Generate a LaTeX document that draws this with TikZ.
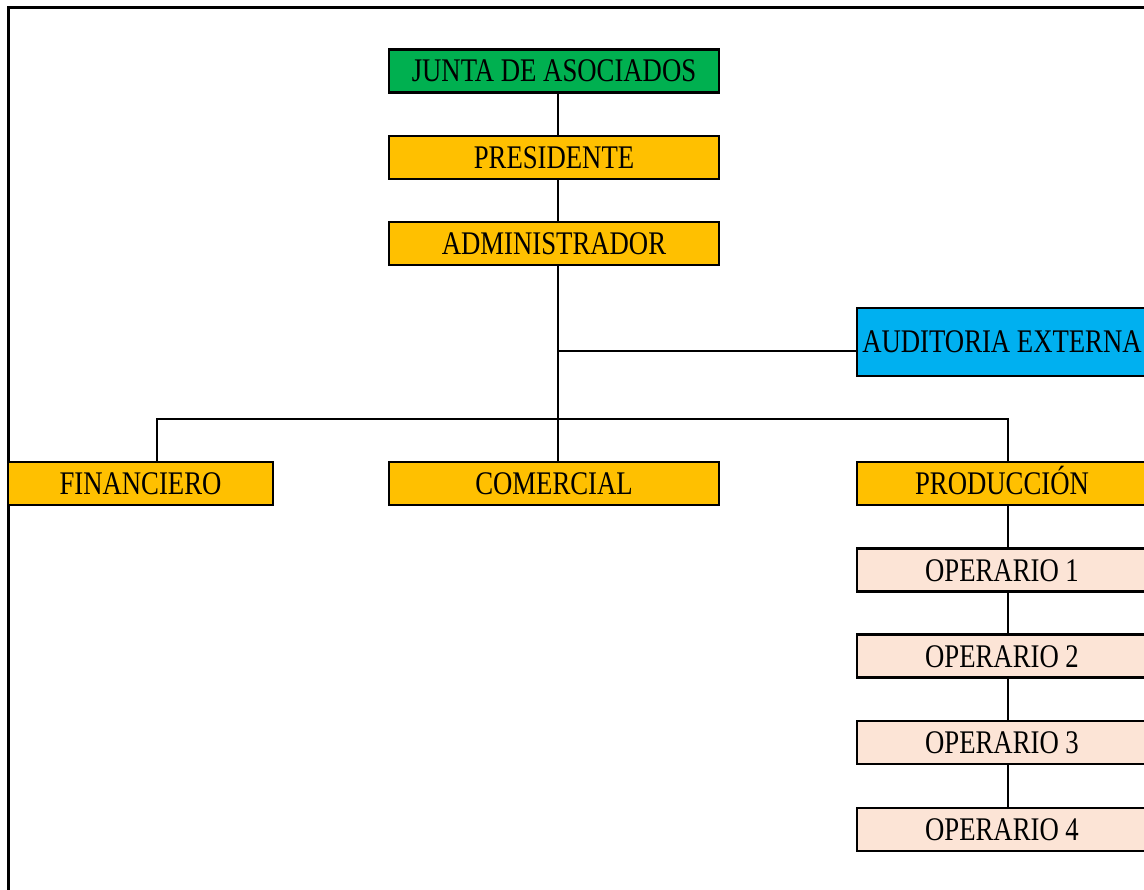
\documentclass[tikz,border=0pt]{standalone}
\usepackage{fontspec}
\setmainfont[FakeStretch=0.81]{Liberation Serif}
\usetikzlibrary{positioning}

% Colores de las cajas
\definecolor{verdejunta}{HTML}{00B050}
\definecolor{naranja}{HTML}{FFC000}
\definecolor{celeste}{HTML}{00B0F0}
\definecolor{salmon}{HTML}{FCE4D6}

\begin{document}
\begin{tikzpicture}[x=1pt, y=-1pt,
  caja/.style={draw, line width=2.6pt, rectangle, inner sep=0pt, minimum height=43pt,
    text height=26pt, text depth=4pt, font=\fontsize{33}{36}\selectfont},
  ancha/.style={caja, minimum width=330pt},
  linea/.style={line width=2.4pt}]
\useasboundingbox (0,0) rectangle (1144,890);

% El marco de la hoja
\draw[line width=3pt] (8,900) -- (8,8) -- (1160,8);

% Direccion
\node[ancha, fill=verdejunta] (junta) at (554,71) {JUNTA DE ASOCIADOS};
\node[ancha, fill=naranja] (presidente) at (554,157.5) {PRESIDENTE};
\node[ancha, fill=naranja] (admin) at (554,243.5) {ADMINISTRADOR};

% Apoyo externo
\node[caja, fill=celeste, minimum width=290pt, minimum height=68pt] (auditoria) at (1002,342) {AUDITORIA EXTERNA};

% Departamentos
\node[caja, fill=naranja, minimum width=265pt] (financiero) at (140.5,483.5) {FINANCIERO};
\node[ancha, fill=naranja] (comercial) at (554,483.5) {COMERCIAL};
\node[caja, fill=naranja, minimum width=290pt] (produccion) at (1002,483.5) {PRODUCCIÓN};

% Operarios de produccion
\node[caja, fill=salmon, minimum width=290pt] (op1) at (1002,570) {OPERARIO 1};
\node[caja, fill=salmon, minimum width=290pt] (op2) at (1002,656) {OPERARIO 2};
\node[caja, fill=salmon, minimum width=290pt] (op3) at (1002,742.5) {OPERARIO 3};
\node[caja, fill=salmon, minimum width=290pt] (op4) at (1002,829.5) {OPERARIO 4};

% Lineas de mando
\coordinate (eje) at (558,0);
\coordinate (rama) at (558,351);
\coordinate (bus) at (558,419);
\draw[linea] (junta.south -| eje) -- (presidente.north -| eje);
\draw[linea] (presidente.south -| eje) -- (admin.north -| eje);
\draw[linea] (admin.south -| eje) -- (comercial.north -| eje);
\draw[linea] (rama) -- (rama -| auditoria.west);
\draw[linea] ([xshift=16.5pt]financiero.north) |- (bus) -| ([xshift=6pt]produccion.north);
\draw[linea] ([xshift=6pt]produccion.south) -- ([xshift=6pt]op1.north);
\draw[linea] ([xshift=6pt]op1.south) -- ([xshift=6pt]op2.north);
\draw[linea] ([xshift=6pt]op2.south) -- ([xshift=6pt]op3.north);
\draw[linea] ([xshift=6pt]op3.south) -- ([xshift=6pt]op4.north);
\end{tikzpicture}
\end{document}
